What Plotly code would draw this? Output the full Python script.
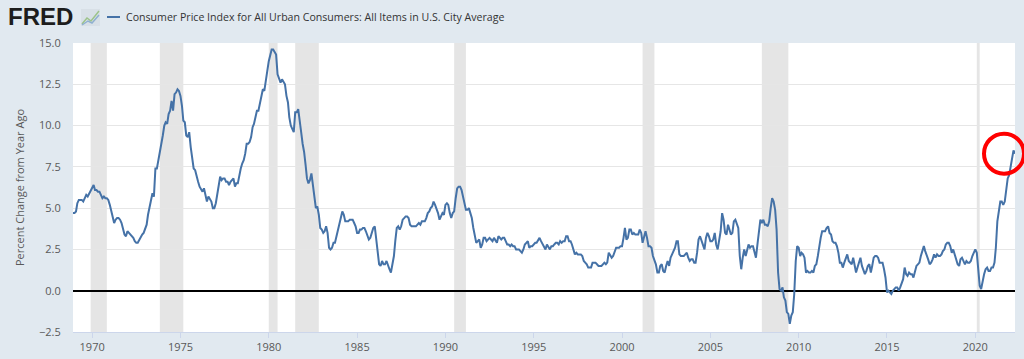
import plotly.graph_objects as go
import pandas as pd

# ---- data: CPI-U, percent change from year ago (monthly) ----
start_month = "1968-12-01"
cpi_1968 = [4.7]
cpi_1969 = [4.7, 4.8, 5.3, 5.5, 5.5, 5.5, 5.4, 5.6, 5.8, 5.7, 5.9, 6.0]
cpi_1970 = [6.2, 6.4, 6.1, 6.1, 6.0, 6.0, 5.8, 5.6, 5.7, 5.6, 5.6, 5.5]
cpi_1971 = [5.2, 4.8, 4.4, 4.1, 4.3, 4.4, 4.4, 4.3, 4.1, 3.8, 3.4, 3.3]
cpi_1972 = [3.6, 3.5, 3.4, 3.3, 3.2, 3.0, 2.9, 2.9, 3.1, 3.2, 3.4, 3.5]
cpi_1973 = [3.7, 4.0, 4.6, 5.0, 5.5, 5.9, 5.7, 7.4, 7.4, 7.9, 8.3, 8.7]
cpi_1974 = [9.4, 10.0, 10.2, 10.1, 10.7, 10.9, 11.5, 10.9, 11.9, 12.0, 12.2, 12.1]
cpi_1975 = [11.8, 11.2, 10.3, 10.2, 9.4, 9.3, 9.6, 8.7, 7.9, 7.4, 7.3, 6.9]
cpi_1976 = [6.6, 6.3, 6.1, 6.0, 6.2, 5.8, 5.4, 5.7, 5.5, 5.4, 5.0, 5.0]
cpi_1977 = [5.3, 5.9, 6.4, 6.9, 6.7, 6.8, 6.8, 6.6, 6.6, 6.4, 6.6, 6.7]
cpi_1978 = [6.8, 6.3, 6.5, 6.5, 7.0, 7.4, 7.7, 7.9, 8.3, 8.9, 8.9, 9.0]
cpi_1979 = [9.3, 9.9, 10.1, 10.5, 10.9, 10.9, 11.3, 11.8, 12.2, 12.1, 12.6, 13.3]
cpi_1980 = [13.9, 14.2, 14.6, 14.6, 14.4, 14.3, 13.1, 12.9, 12.6, 12.8, 12.6, 12.5]
cpi_1981 = [11.8, 11.4, 10.5, 10.0, 9.8, 9.6, 10.8, 10.8, 11.0, 10.1, 9.6, 8.9]
cpi_1982 = [8.4, 7.6, 6.8, 6.5, 6.7, 7.1, 6.4, 5.9, 5.0, 5.1, 4.6, 3.8]
cpi_1983 = [3.7, 3.5, 3.6, 3.9, 3.5, 2.6, 2.5, 2.6, 2.9, 2.9, 3.3, 3.8]
cpi_1984 = [4.2, 4.6, 4.8, 4.6, 4.2, 4.2, 4.2, 4.3, 4.3, 4.3, 4.1, 3.9]
cpi_1985 = [3.5, 3.5, 3.7, 3.7, 3.8, 3.8, 3.6, 3.3, 3.1, 3.2, 3.5, 3.8]
cpi_1986 = [3.9, 3.1, 2.2, 1.6, 1.5, 1.8, 1.6, 1.6, 1.8, 1.5, 1.3, 1.1]
cpi_1987 = [1.5, 2.1, 3.0, 3.8, 3.9, 3.7, 3.9, 4.3, 4.4, 4.5, 4.5, 4.4]
cpi_1988 = [4.0, 3.9, 3.9, 3.9, 3.9, 4.0, 4.1, 4.0, 4.2, 4.2, 4.2, 4.4]
cpi_1989 = [4.7, 4.8, 5.0, 5.1, 5.4, 5.2, 5.0, 4.7, 4.3, 4.5, 4.7, 4.6]
cpi_1990 = [5.2, 5.3, 5.2, 4.7, 4.4, 4.7, 4.8, 5.6, 6.2, 6.3, 6.3, 6.1]
cpi_1991 = [5.7, 5.3, 4.9, 4.9, 5.0, 4.7, 4.4, 3.8, 3.4, 2.9, 3.0, 3.1]
cpi_1992 = [2.6, 2.8, 3.2, 3.2, 3.0, 3.1, 3.2, 3.1, 3.0, 3.2, 3.0, 2.9]
cpi_1993 = [3.3, 3.2, 3.1, 3.2, 3.2, 3.0, 2.8, 2.8, 2.7, 2.8, 2.7, 2.7]
cpi_1994 = [2.5, 2.5, 2.5, 2.4, 2.3, 2.5, 2.8, 2.9, 3.0, 2.6, 2.7, 2.7]
cpi_1995 = [2.8, 2.9, 2.9, 3.1, 3.2, 3.0, 2.8, 2.6, 2.5, 2.8, 2.6, 2.5]
cpi_1996 = [2.7, 2.7, 2.8, 2.9, 2.9, 2.8, 3.0, 2.9, 3.0, 3.0, 3.3, 3.3]
cpi_1997 = [3.0, 3.0, 2.8, 2.5, 2.2, 2.3, 2.2, 2.2, 2.2, 2.1, 1.8, 1.7]
cpi_1998 = [1.6, 1.4, 1.4, 1.4, 1.7, 1.7, 1.7, 1.6, 1.5, 1.5, 1.5, 1.6]
cpi_1999 = [1.7, 1.6, 1.7, 2.3, 2.1, 2.0, 2.1, 2.3, 2.6, 2.6, 2.6, 2.7]
cpi_2000 = [2.7, 3.2, 3.8, 3.1, 3.2, 3.7, 3.7, 3.4, 3.5, 3.4, 3.4, 3.4]
cpi_2001 = [3.7, 3.5, 2.9, 3.3, 3.6, 3.2, 2.7, 2.7, 2.6, 2.1, 1.9, 1.6]
cpi_2002 = [1.1, 1.1, 1.5, 1.6, 1.2, 1.1, 1.5, 1.8, 1.5, 2.0, 2.2, 2.4]
cpi_2003 = [2.6, 3.0, 3.0, 2.2, 2.1, 2.1, 2.1, 2.2, 2.3, 2.0, 1.8, 1.9]
cpi_2004 = [1.9, 1.7, 1.7, 2.3, 3.1, 3.3, 3.0, 2.7, 2.5, 3.2, 3.5, 3.3]
cpi_2005 = [3.0, 3.0, 3.1, 3.5, 2.8, 2.5, 3.2, 3.6, 4.7, 4.3, 3.5, 3.4]
cpi_2006 = [4.0, 3.6, 3.4, 3.5, 4.2, 4.3, 4.1, 3.8, 2.1, 1.3, 2.0, 2.5]
cpi_2007 = [2.1, 2.4, 2.8, 2.6, 2.7, 2.7, 2.4, 2.0, 2.8, 3.5, 4.3, 4.1]
cpi_2008 = [4.3, 4.0, 4.0, 3.9, 4.2, 5.0, 5.6, 5.4, 4.9, 3.7, 1.1, 0.1]
cpi_2009 = [0.0, 0.2, -0.4, -0.6, -1.3, -1.4, -2.0, -1.5, -1.3, -0.2, 1.8, 2.7]
cpi_2010 = [2.6, 2.1, 2.3, 2.2, 2.0, 1.1, 1.2, 1.1, 1.1, 1.2, 1.1, 1.5]
cpi_2011 = [1.6, 2.1, 2.7, 3.2, 3.6, 3.6, 3.6, 3.8, 3.9, 3.5, 3.4, 3.0]
cpi_2012 = [2.9, 2.9, 2.7, 2.3, 1.7, 1.7, 1.4, 1.7, 2.0, 2.2, 1.8, 1.7]
cpi_2013 = [1.6, 2.0, 1.5, 1.1, 1.4, 1.8, 2.0, 1.5, 1.2, 1.0, 1.2, 1.5]
cpi_2014 = [1.6, 1.1, 1.5, 2.0, 2.1, 2.1, 2.0, 1.7, 1.7, 1.7, 1.3, 0.8]
cpi_2015 = [-0.1, 0.0, -0.1, -0.2, 0.0, 0.1, 0.2, 0.2, 0.0, 0.2, 0.5, 0.7]
cpi_2016 = [1.4, 1.0, 0.9, 1.1, 1.0, 1.0, 0.8, 1.1, 1.5, 1.6, 1.7, 2.1]
cpi_2017 = [2.5, 2.7, 2.4, 2.2, 1.9, 1.6, 1.7, 1.9, 2.2, 2.0, 2.2, 2.1]
cpi_2018 = [2.1, 2.2, 2.4, 2.5, 2.8, 2.9, 2.9, 2.7, 2.3, 2.5, 2.2, 1.9]
cpi_2019 = [1.6, 1.5, 1.9, 2.0, 1.8, 1.6, 1.8, 1.7, 1.7, 1.8, 2.1, 2.3]
cpi_2020 = [2.5, 2.3, 1.5, 0.3, 0.1, 0.6, 1.0, 1.3, 1.4, 1.2, 1.2, 1.4]
cpi_2021 = [1.4, 1.7, 2.6, 4.2, 4.9, 5.4, 5.4, 5.2, 5.4, 6.2, 6.8, 7.0]
cpi_2022 = [7.5, 7.9, 8.5, 8.3]

recession_starts = ["1969-12-01", "1973-11-01", "1980-01-01", "1981-07-01",
                    "1990-07-01", "2001-03-01", "2007-12-01", "2020-02-01"]
recession_ends = ["1970-11-01", "1975-03-01", "1980-07-01", "1982-11-01",
                  "1991-03-01", "2001-11-01", "2009-06-01", "2020-04-01"]

y_ticks = [-2.5, 0.0, 2.5, 5.0, 7.5, 10.0, 12.5, 15.0]
x_tick_years = [1970, 1975, 1980, 1985, 1990, 1995, 2000, 2005, 2010, 2015, 2020]

series_name = "Consumer Price Index for All Urban Consumers: All Items in U.S. City Average"
y_title = "Percent Change from Year Ago"

# ---- assemble ----
values = (cpi_1968 + cpi_1969 + cpi_1970 + cpi_1971 + cpi_1972 + cpi_1973 + cpi_1974
          + cpi_1975 + cpi_1976 + cpi_1977 + cpi_1978 + cpi_1979 + cpi_1980 + cpi_1981
          + cpi_1982 + cpi_1983 + cpi_1984 + cpi_1985 + cpi_1986 + cpi_1987 + cpi_1988
          + cpi_1989 + cpi_1990 + cpi_1991 + cpi_1992 + cpi_1993 + cpi_1994 + cpi_1995
          + cpi_1996 + cpi_1997 + cpi_1998 + cpi_1999 + cpi_2000 + cpi_2001 + cpi_2002
          + cpi_2003 + cpi_2004 + cpi_2005 + cpi_2006 + cpi_2007 + cpi_2008 + cpi_2009
          + cpi_2010 + cpi_2011 + cpi_2012 + cpi_2013 + cpi_2014 + cpi_2015 + cpi_2016
          + cpi_2017 + cpi_2018 + cpi_2019 + cpi_2020 + cpi_2021 + cpi_2022)
dates = pd.date_range(start_month, periods=len(values), freq="MS")

W, H = 1024, 359
ML, MR, MT, MB = 73, 9, 43, 27
PW, PH = W - ML - MR, H - MT - MB
Y_MIN, Y_MAX = -2.5, 15.0
x_range = [dates[0], dates[-1]]

LINE = "#4572a7"
BG = "#e1e9f0"
TXT = "#595959"


def px_x(px):
    return (px - ML) / PW


def px_y(py):
    return (H - MB - py) / PH


fig = go.Figure()
fig.add_trace(go.Scatter(x=dates, y=values, mode="lines", name=series_name,
                         line=dict(color=LINE, width=2), showlegend=False,
                         hoverinfo="x+y"))

shapes = []
for s, e in zip(recession_starts, recession_ends):
    shapes.append(dict(type="rect", xref="x", yref="paper", x0=s, x1=e, y0=0, y1=1,
                       fillcolor="#e5e5e5", line=dict(width=0), layer="below"))

# legend line in header
shapes.append(dict(type="line", xref="paper", yref="paper",
                   x0=px_x(107), x1=px_x(120), y0=px_y(17), y1=px_y(17),
                   line=dict(color=LINE, width=2)))
# small FRED graph icon
shapes.append(dict(type="rect", xref="paper", yref="paper",
                   x0=px_x(81), x1=px_x(100), y0=px_y(26), y1=px_y(9),
                   fillcolor="#d8e0e7", line=dict(width=0)))
icon_green = "M {} {} L {} {} L {} {} L {} {}".format(
    px_x(82), px_y(24), px_x(87), px_y(18), px_x(91), px_y(21), px_x(99), px_y(11))
icon_blue = "M {} {} L {} {} L {} {} L {} {}".format(
    px_x(82), px_y(25), px_x(88), px_y(21), px_x(92), px_y(23), px_x(99), px_y(15))
shapes.append(dict(type="path", xref="paper", yref="paper", path=icon_green,
                   line=dict(color="#9cc38a", width=1.5)))
shapes.append(dict(type="path", xref="paper", yref="paper", path=icon_blue,
                   line=dict(color="#8fb0d0", width=1.5)))

# red circle around the latest observation
t0 = pd.Timestamp(x_range[0]).value
t1 = pd.Timestamp(x_range[1]).value
last_xp = (pd.Timestamp(dates[-1]).value - t0) / (t1 - t0)
last_yp = (values[-1] - Y_MIN) / (Y_MAX - Y_MIN)
shapes.append(dict(type="circle", xref="paper", yref="paper",
                   xsizemode="pixel", ysizemode="pixel",
                   xanchor=last_xp, yanchor=last_yp,
                   x0=-31, x1=9, y0=-20, y1=20,
                   line=dict(color="#ff0000", width=4), layer="above"))

annotations = [
    dict(text="<b>FRED</b>", xref="paper", yref="paper", x=px_x(6), y=px_y(17),
         xanchor="left", yanchor="middle", showarrow=False,
         font=dict(family="Liberation Sans", size=24, color="#1d1d1d")),
    dict(text=series_name, xref="paper", yref="paper", x=px_x(124), y=px_y(17),
         xanchor="left", yanchor="middle", showarrow=False,
         font=dict(family="Open Sans", size=10.6, color="#333333")),
]

fig.update_layout(
    width=W, height=H,
    margin=dict(l=ML, r=MR, t=MT, b=MB, autoexpand=False),
    paper_bgcolor=BG, plot_bgcolor="#ffffff",
    font=dict(family="Open Sans", size=11, color=TXT),
    shapes=shapes, annotations=annotations,
    showlegend=False,
    xaxis=dict(type="date", range=x_range,
               tickvals=[pd.Timestamp(f"{y}-01-01") for y in x_tick_years],
               ticktext=[str(y) for y in x_tick_years],
               showgrid=False, zeroline=False,
               showline=True, linecolor="#ccd6eb", linewidth=1,
               ticks="outside", ticklen=5, tickcolor="#ccd6eb",
               tickfont=dict(size=11, color=TXT), automargin=False),
    yaxis=dict(range=[Y_MIN, Y_MAX], tickvals=y_ticks, tickformat=".1f",
               showgrid=True, gridcolor="#e6e6e6", gridwidth=1,
               zeroline=True, zerolinecolor="#000000", zerolinewidth=2,
               showline=False, ticks="outside", ticklen=9,
               tickcolor="rgba(0,0,0,0)",
               tickfont=dict(size=11, color=TXT),
               title=dict(text=y_title, font=dict(size=11, color=TXT), standoff=12),
               automargin=False),
)

fig.write_html("out.html", config={"displayModeBar": False},
               post_script="document.body.style.margin='0';"
                           "document.body.style.overflow='hidden';")
